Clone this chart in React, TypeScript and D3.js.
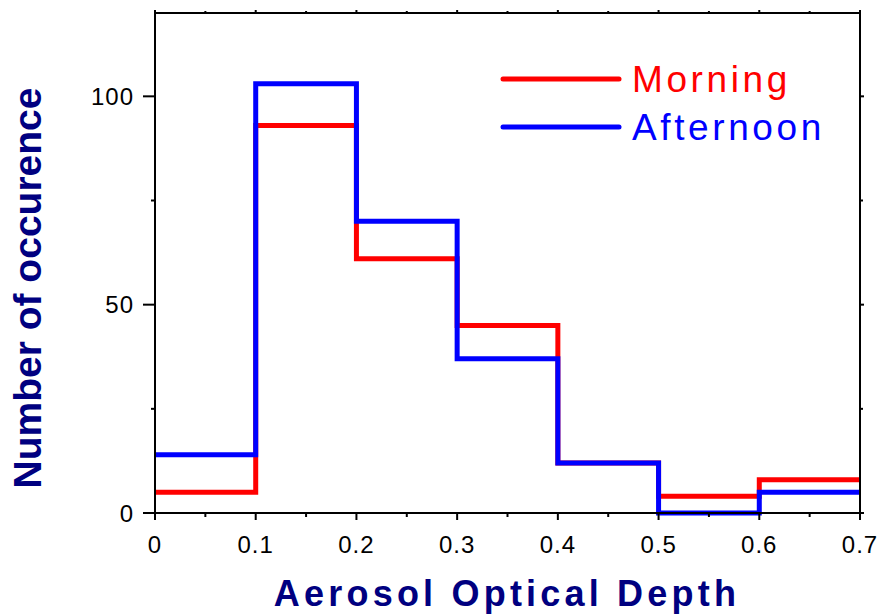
import React from "react";
import * as d3 from "d3";

const binEdges = [0, 0.1, 0.2, 0.3, 0.4, 0.5, 0.6, 0.7];
const morning = [5, 93, 61, 45, 12, 4, 8];
const afternoon = [14, 103, 70, 37, 12, 0, 5];
const xTicks = [0, 0.1, 0.2, 0.3, 0.4, 0.5, 0.6, 0.7];
const xMinorTicks = [0.05, 0.15, 0.25, 0.35, 0.45, 0.55, 0.65];
const yTicks = [0, 50, 100];
const yMinorTicks = [25, 75];
const seriesNames = ["Morning", "Afternoon"];
const seriesColors = ["#ff0000", "#0000ff"];

const W = 878;
const H = 615;
const L = 155, R = 860, T = 13, B = 513;

export default function App() {
  const x = d3.scaleLinear().domain([0, 0.7]).range([L, R]);
  const y = d3.scaleLinear().domain([0, 120]).range([B, T]);
  const line = d3
    .line<[number, number]>()
    .x((d) => x(d[0]))
    .y((d) => y(d[1]))
    .curve(d3.curveStepAfter);
  const pts = (vals: number[]) => {
    const p: [number, number][] = vals.map((v, i) => [binEdges[i], v]);
    p.push([binEdges[binEdges.length - 1], vals[vals.length - 1]]);
    return p;
  };
  const series = [morning, afternoon];
  const font = "'Liberation Sans', Arial, sans-serif";
  return (
    <svg width={W} height={H} style={{ position: "absolute", left: 0, top: 0, background: "#fff" }} fontFamily={font}>
      <rect x={0} y={0} width={W} height={H} fill="#fff" />
      {series.map((s, i) => (
        <path key={i} d={line(pts(s)) || ""} fill="none" stroke={seriesColors[i]} strokeWidth={5} strokeLinejoin="miter" />
      ))}
      {/* frame */}
      <rect x={L} y={T} width={R - L} height={B - T} fill="none" stroke="#000" strokeWidth={2} />
      {/* x ticks bottom */}
      {xTicks.map((t) => (
        <g key={"xt" + t}>
          <line x1={x(t)} x2={x(t)} y1={B} y2={B + 7} stroke="#000" strokeWidth={2} />
          <line x1={x(t)} x2={x(t)} y1={T} y2={T - 3} stroke="#000" strokeWidth={2} />
          <text x={x(t)} y={553} fontSize={24} textAnchor="middle" letterSpacing={1} fill="#000">
            {d3.format("")(t)}
          </text>
        </g>
      ))}
      {xMinorTicks.map((t) => (
        <g key={"xm" + t}>
          <line x1={x(t)} x2={x(t)} y1={B} y2={B + 4} stroke="#000" strokeWidth={2} />
          <line x1={x(t)} x2={x(t)} y1={T} y2={T - 2} stroke="#000" strokeWidth={2} />
        </g>
      ))}
      {yTicks.map((t) => (
        <g key={"yt" + t}>
          <line x1={L} x2={L - 12} y1={y(t)} y2={y(t)} stroke="#000" strokeWidth={2} />
          <line x1={R} x2={R + 4} y1={y(t)} y2={y(t)} stroke="#000" strokeWidth={2} />
          <text x={134} y={y(t) + 8.5} fontSize={24} textAnchor="end" letterSpacing={1} fill="#000">
            {t}
          </text>
        </g>
      ))}
      {yMinorTicks.map((t) => (
        <g key={"ym" + t}>
          <line x1={L} x2={L - 4} y1={y(t)} y2={y(t)} stroke="#000" strokeWidth={2} />
          <line x1={R} x2={R + 3} y1={y(t)} y2={y(t)} stroke="#000" strokeWidth={2} />
        </g>
      ))}
      {/* axis titles */}
      <text x={507} y={606} fontSize={36} fontWeight="bold" textAnchor="middle" letterSpacing={4.2} fill="#000080">
        Aerosol Optical Depth
      </text>
      <text
        transform="translate(41,288) rotate(-90)"
        fontSize={39}
        fontWeight="bold"
        textAnchor="middle"
        fill="#000080"
      >
        Number of occurence
      </text>
      {/* legend */}
      {seriesNames.map((n, i) => (
        <g key={n}>
          <line x1={503} x2={619} y1={79 + i * 48} y2={79 + i * 48} stroke={seriesColors[i]} strokeWidth={5} strokeLinecap="round" />
          <text x={632} y={92 + i * 48} fontSize={37} letterSpacing={3.6} fill={seriesColors[i]}>
            {n}
          </text>
        </g>
      ))}
    </svg>
  );
}
